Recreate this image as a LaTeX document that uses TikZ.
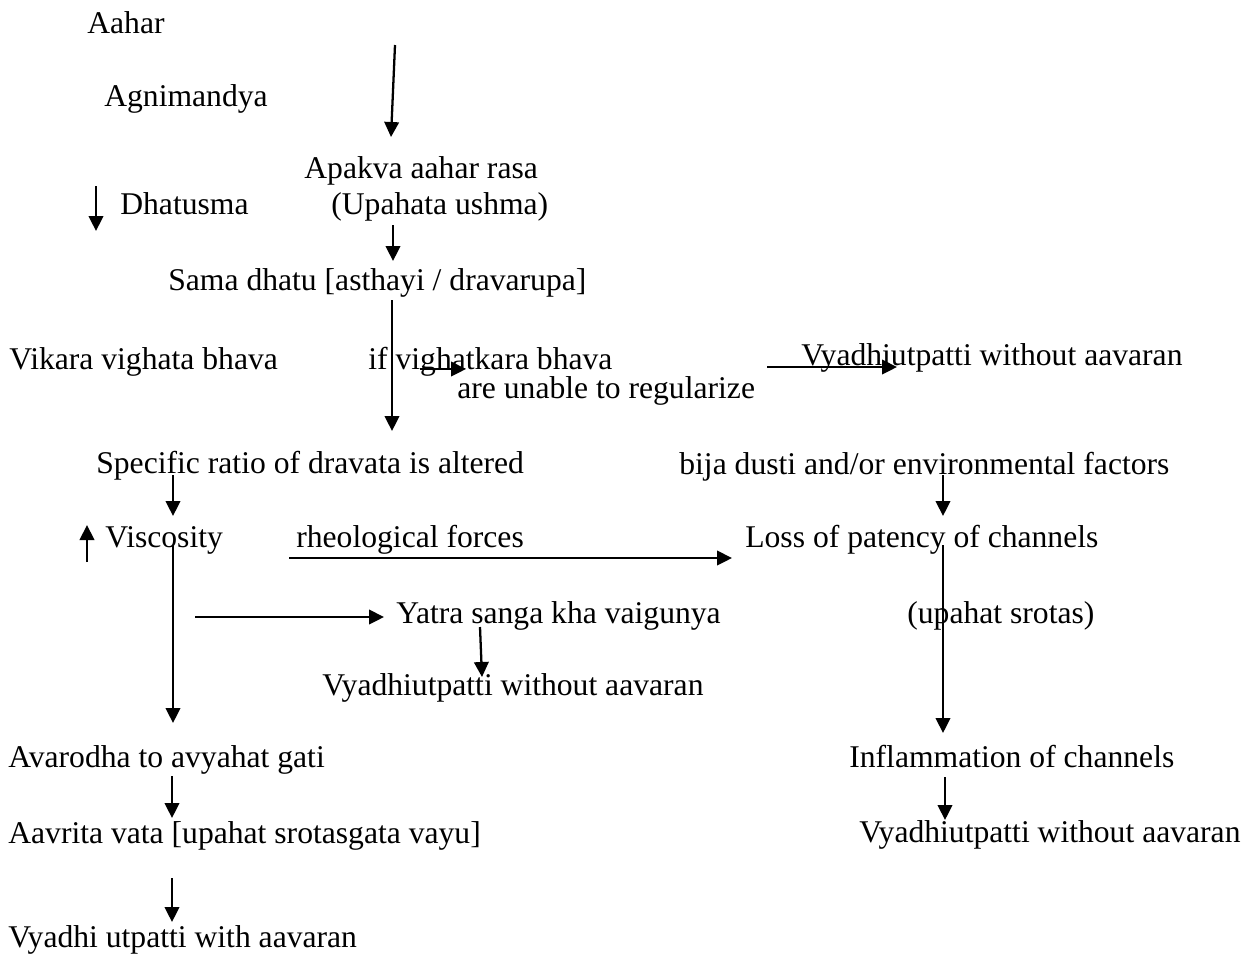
\documentclass[tikz,border=0pt]{standalone}
\usepackage{fontspec}
\setmainfont{Liberation Serif}
\usetikzlibrary{arrows.meta}

\begin{document}
\begin{tikzpicture}[
		x=0.02cm, y=-0.02cm,
		every node/.style={
				anchor=base west,
				inner sep=0pt,
				font=\fontsize{18}{21}\selectfont
			},
		flow/.style={
				draw,
				line width=1.3pt,
				-{Triangle[length=0.3cm, width=0.29cm]}
			}
	]
	\useasboundingbox (0,0) rectangle (1250,958);

	% texts
	\node (aahar) at (87,33) {Aahar};
	\node (agni) at (104,106) {Agnimandya};
	\node (apakva) at (304,178) {Apakva aahar rasa};
	\node (upahata) at (331,214) {(Upahata ushma)};
	\node (dhatusma) at (120,214) {Dhatusma};
	\node (sama) at (168,290) {Sama dhatu [asthayi / dravarupa]};
	\node (vikara) at (9,369) {Vikara vighata bhava};
	\node (ifvighat) at (368,369) {if vighatkara bhava};
	\node (unable) at (457,398) {are unable to regularize};
	\node (vyadA) at (801,365) {Vyadhiutpatti without aavaran};
	\node (specific) at (96,473) {Specific ratio of dravata is altered};
	\node (bija) at (679,474) {bija dusti and/or environmental factors};
	\node (viscosity) at (105,547) {Viscosity};
	\node (rheo) at (296,547) {rheological forces};
	\node (loss) at (745,547) {Loss of patency of channels};
	\node (yatra) at (396,623) {Yatra sanga kha vaigunya};
	\node (upahat) at (907,623) {(upahat srotas)};
	\node (vyadB) at (322,695) {Vyadhiutpatti without aavaran};
	\node (avarodha) at (8,767) {Avarodha to avyahat gati};
	\node (inflam) at (849,767) {Inflammation of channels};
	\node (aavrita) at (8,843) {Aavrita vata [upahat srotasgata vayu]};
	\node (vyadC) at (859,842) {Vyadhiutpatti without aavaran};
	\node (vyadhi) at (8,947) {Vyadhi utpatti with aavaran};

	% arrow ends
	\coordinate (aaharS) at (395,45);   \coordinate (apakvaN) at (391,137);
	\coordinate (dhatuS) at (96,186);   \coordinate (dhatuE) at (96,231);
	\coordinate (upahataS) at (393,225); \coordinate (samaN) at (393,261);
	\coordinate (samaS) at (392,300);   \coordinate (specificN) at (392,431);
	\coordinate (ifS) at (420,369);     \coordinate (ifE) at (466,369);
	\coordinate (unableS) at (767,367); \coordinate (vyadAW) at (897,367);
	\coordinate (specificS) at (173,475); \coordinate (viscosityN) at (173,516);
	\coordinate (bijaS) at (943,475);   \coordinate (lossN) at (943,516);
	\coordinate (upS) at (87,562);      \coordinate (upE) at (87,525);
	\coordinate (rheoS) at (289,558);   \coordinate (lossW) at (732,558);
	\coordinate (viscosityS) at (173,545); \coordinate (avarodhaN) at (173,723);
	\coordinate (lossS) at (943,545);   \coordinate (inflamN) at (943,733);
	\coordinate (branchS) at (195,617); \coordinate (yatraW) at (384,617);
	\coordinate (yatraS) at (480,627);  \coordinate (vyadBN) at (482,677);
	\coordinate (avarodhaS) at (172,776); \coordinate (aavritaN) at (172,818);
	\coordinate (inflamS) at (945,777); \coordinate (vyadCN) at (945,820);
	\coordinate (aavritaS) at (172,878); \coordinate (vyadhiN) at (172,922);

	% arrows
	\draw[flow] (aaharS) -- (apakvaN);
	\draw[flow] (dhatuS) -- (dhatuE);
	\draw[flow] (upahataS) -- (samaN);
	\draw[flow] (samaS) -- (specificN);
	\draw[flow] (ifS) -- (ifE);
	\draw[flow] (unableS) -- (vyadAW);
	\draw[flow] (specificS) -- (viscosityN);
	\draw[flow] (bijaS) -- (lossN);
	\draw[flow] (upS) -- (upE);
	\draw[flow] (rheoS) -- (lossW);
	\draw[flow] (viscosityS) -- (avarodhaN);
	\draw[flow] (lossS) -- (inflamN);
	\draw[flow] (branchS) -- (yatraW);
	\draw[flow] (yatraS) -- (vyadBN);
	\draw[flow] (avarodhaS) -- (aavritaN);
	\draw[flow] (inflamS) -- (vyadCN);
	\draw[flow] (aavritaS) -- (vyadhiN);
\end{tikzpicture}
\end{document}
